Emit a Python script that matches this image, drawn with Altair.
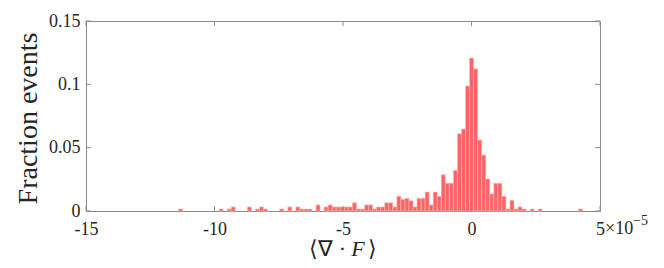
import altair as alt
import pandas as pd

# Histogram of <div F> (x in units of 1e-5), 100 equal bins
BIN_LO = -11.394   # lower edge of first bin (x 1e-5)
BIN_W = 0.1572     # bin width (x 1e-5)

fraction = [
    0.0016, 0, 0, 0, 0, 0, 0, 0, 0, 0,
    0.0016, 0, 0.0016, 0.0032, 0, 0, 0, 0.0032, 0, 0.0016,
    0.0032, 0.0016, 0, 0, 0, 0.0016, 0, 0.0032, 0, 0.0032,
    0.0016, 0.0016, 0.0016, 0, 0.0048, 0, 0.0032, 0.0048, 0.0032, 0.0032,
    0.0032, 0.0032, 0.0032, 0.0065, 0.0016, 0.0016, 0.0048, 0.0048, 0.0016, 0.0032,
    0.0032, 0.0065, 0.0065, 0.0032, 0.0116, 0.0092, 0.0100, 0.0081, 0.0032, 0.0100,
    0.0100, 0.0150, 0.0048, 0.0150, 0.0116, 0.0286, 0.0219, 0.0219, 0.0321, 0.0610,
    0.0647, 0.0987, 0.1207, 0.1123, 0.0560, 0.0442, 0.0253, 0.0134, 0.0219, 0.0219,
    0.0116, 0.0016, 0.0084, 0.0016, 0.0032, 0.0016, 0, 0.0016, 0, 0.0016,
    0, 0, 0, 0, 0, 0, 0, 0, 0, 0.0016,
]

x_ticks = [-15, -10, -5, 0, 5]
y_ticks = [0, 0.05, 0.1, 0.15]
x_title_parts = ["⟨∇ ·", "F", "⟩"]
y_title = "Fraction events"
exp_base = "×10"
exp_power = "−5"

rows = []
for i, f in enumerate(fraction):
    if f > 0:
        rows.append({"lo": BIN_LO + i * BIN_W, "hi": BIN_LO + (i + 1) * BIN_W,
                     "base0": 0.0, "frac": f})
df = pd.DataFrame(rows)

W, H = 514, 190
FONT = "Liberation Serif, serif"
TXT = "#262626"
GRAY = "#8a8a8a"
TL = 5
LFS = 18

xs = alt.Scale(domain=[-15, 5], nice=False, zero=False, padding=0)
ys = alt.Scale(domain=[0, 0.15], nice=False, padding=0)

bars = alt.Chart(df).mark_bar(
    fill="#ff6464", stroke="#ffbcbc", strokeWidth=0.6
).encode(
    x=alt.X("lo:Q", scale=xs, axis=alt.Axis(
        values=x_ticks, domain=False, ticks=False, grid=False,
        labelExpr="datum.value < 0 ? '-' + (-datum.value) : '' + datum.value",
        labelFont=FONT, labelFontSize=LFS, labelColor=TXT, labelPadding=9,
        labelFlush=False, title=None)),
    x2="hi:Q",
    y=alt.Y("frac:Q", scale=ys, axis=alt.Axis(
        values=y_ticks, domain=False, ticks=False, grid=False,
        labelExpr="datum.value == 0 ? '0' : format(datum.value, '.2~f')",
        labelFont=FONT, labelFontSize=LFS, labelColor=TXT, labelPadding=6,
        labelFlush=False,
        title=y_title, titleFont=FONT, titleFontSize=28, titleFontWeight="normal",
        titleColor=TXT, titleX=-58, titleY=97, titleAngle=270,
        titleBaseline="middle", titleAlign="center")),
    y2="base0:Q",
)

xt = pd.DataFrame({"v": x_ticks})
yt = pd.DataFrame({"v": y_ticks})

bottom_ticks = alt.Chart(xt).mark_rule(color=GRAY, strokeWidth=1).encode(
    x=alt.X("v:Q", scale=xs), y=alt.value(H), y2=alt.value(H - TL))
top_ticks = alt.Chart(xt).mark_rule(color=GRAY, strokeWidth=1).encode(
    x=alt.X("v:Q", scale=xs), y=alt.value(0), y2=alt.value(TL))
left_ticks = alt.Chart(yt).mark_rule(color=GRAY, strokeWidth=1).encode(
    y=alt.Y("v:Q", scale=ys), x=alt.value(0), x2=alt.value(TL))
right_ticks = alt.Chart(yt).mark_rule(color=GRAY, strokeWidth=1).encode(
    y=alt.Y("v:Q", scale=ys), x=alt.value(W), x2=alt.value(W - TL))

ex = pd.DataFrame({"v": [5], "base": [exp_base], "pw": [exp_power]})
exp_txt = alt.Chart(ex).mark_text(
    font=FONT, fontSize=LFS, color=TXT, align="left", baseline="middle", dx=5
).encode(x=alt.X("v:Q", scale=xs), y=alt.value(H + 18), text="base:N")
pow_txt = alt.Chart(ex).mark_text(
    font=FONT, fontSize=14, color=TXT, align="left", baseline="middle", dx=33
).encode(x=alt.X("v:Q", scale=xs), y=alt.value(H + 10), text="pw:N")

# x-axis title composed of parts so that F can be italic
tt = pd.DataFrame({"a": [x_title_parts[0]], "b": [x_title_parts[1]], "c": [x_title_parts[2]]})
TY = H + 38
title_a = alt.Chart(tt).mark_text(
    font=FONT, fontSize=22, color=TXT, align="right", baseline="middle"
).encode(x=alt.value(260), y=alt.value(TY), text="a:N")
title_b = alt.Chart(tt).mark_text(
    font=FONT, fontSize=22, fontStyle="italic", color=TXT, align="center", baseline="middle"
).encode(x=alt.value(272), y=alt.value(TY), text="b:N")
title_c = alt.Chart(tt).mark_text(
    font=FONT, fontSize=22, color=TXT, align="left", baseline="middle"
).encode(x=alt.value(282), y=alt.value(TY), text="c:N")

chart = alt.layer(
    bars, bottom_ticks, top_ticks, left_ticks, right_ticks, exp_txt, pow_txt,
    title_a, title_b, title_c
).properties(
    width=W, height=H,
    autosize=alt.AutoSizeParams(type="none"),
    padding={"left": 78, "top": 13, "right": 56, "bottom": 49},
    background="white",
).configure_view(
    stroke=GRAY, strokeWidth=1
).configure_axis(
    labelFont=FONT, titleFont=FONT
)

chart.save("out.html", embed_options={"renderer": "svg", "actions": False})
